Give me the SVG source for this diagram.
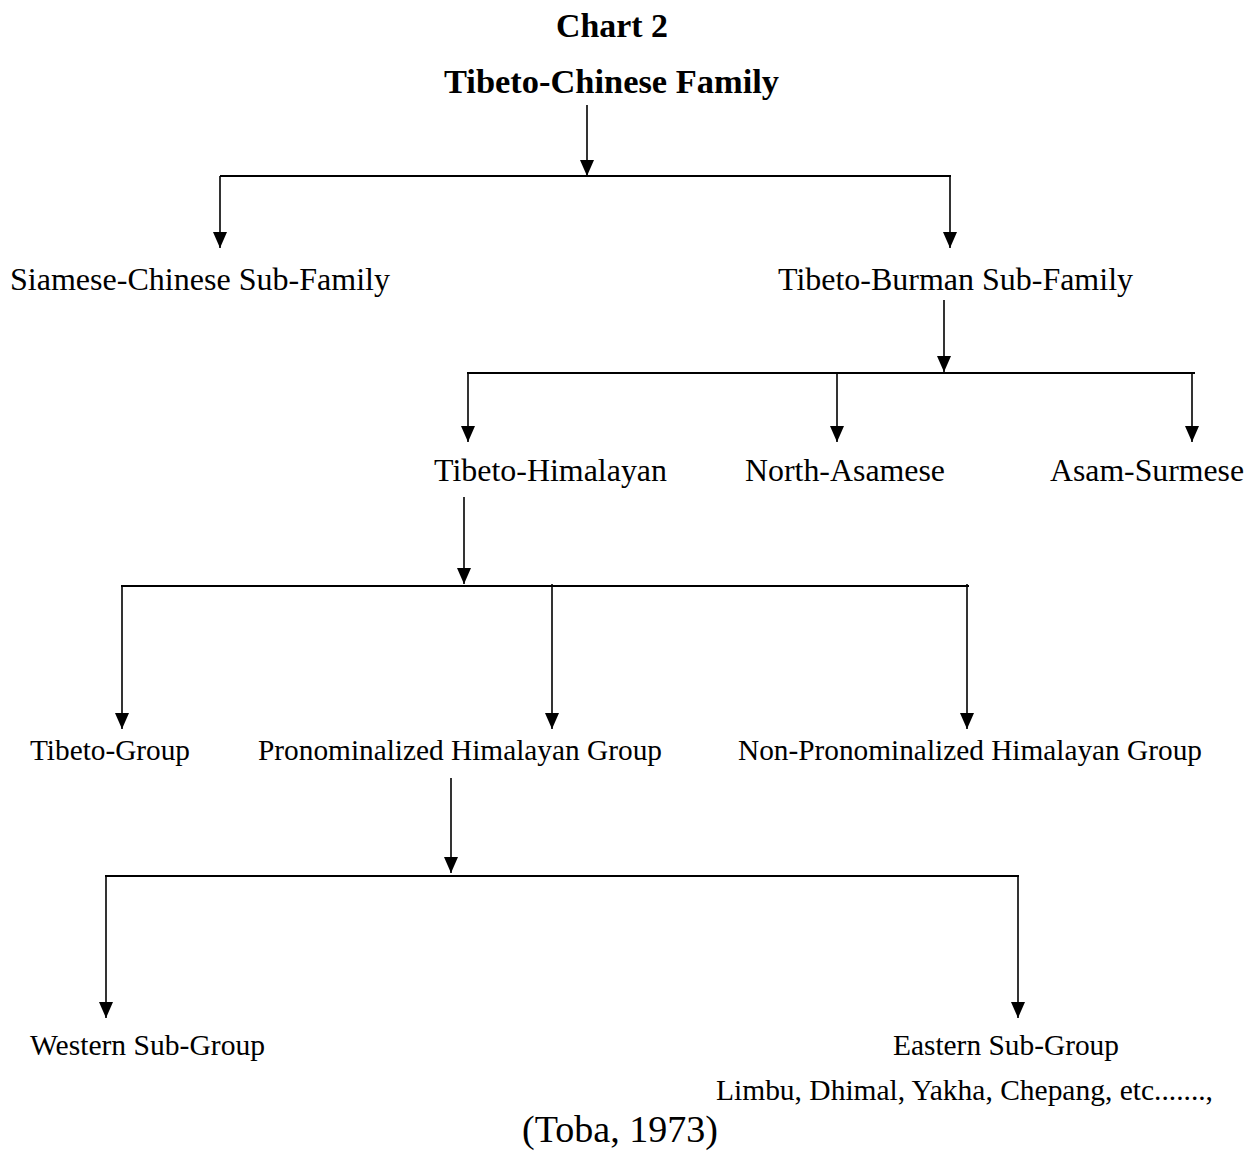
<svg xmlns="http://www.w3.org/2000/svg" width="1258" height="1169" viewBox="0 0 1258 1169">
<defs>
<marker id="arr" markerUnits="userSpaceOnUse" markerWidth="16" markerHeight="14" viewBox="0 0 16 14" refX="16" refY="7" orient="auto">
<path d="M0,0 L16,7 L0,14 z" fill="#000"/>
</marker>
<style>
text { font-family: 'Liberation Serif', 'Times New Roman', Times, serif; fill: #000; }
.b { font-weight: bold; font-size: 34px; }
.l1 { font-size: 32px; }
.l2 { font-size: 29.5px; }
.v { stroke: #000; stroke-width: 1.6; fill: none; marker-end: url(#arr); }
.h { stroke: #000; stroke-width: 2; fill: none; }
</style>
</defs>
<rect width="1258" height="1169" fill="#fff"/>
<g id="title">
<text class="b" x="556" y="37" textLength="112" lengthAdjust="spacingAndGlyphs">Chart 2</text>
</g>
<g id="n-root"><text class="b" x="444" y="93" textLength="335" lengthAdjust="spacingAndGlyphs">Tibeto-Chinese Family</text></g>
<g id="n-siamese"><text class="l1" x="10" y="290" textLength="380" lengthAdjust="spacingAndGlyphs">Siamese-Chinese Sub-Family</text></g>
<g id="n-tibetoburman"><text class="l1" x="778" y="290" textLength="355" lengthAdjust="spacingAndGlyphs">Tibeto-Burman Sub-Family</text></g>
<g id="n-tibetohimalayan"><text class="l1" x="434" y="481" textLength="233" lengthAdjust="spacingAndGlyphs">Tibeto-Himalayan</text></g>
<g id="n-northasamese"><text class="l1" x="745" y="481" textLength="200" lengthAdjust="spacingAndGlyphs">North-Asamese</text></g>
<g id="n-asamsurmese"><text class="l1" x="1050" y="481" textLength="194" lengthAdjust="spacingAndGlyphs">Asam-Surmese</text></g>
<g id="n-tibetogroup"><text class="l2" x="30" y="760" textLength="160" lengthAdjust="spacingAndGlyphs">Tibeto-Group</text></g>
<g id="n-pronom"><text class="l2" x="258" y="760" textLength="404" lengthAdjust="spacingAndGlyphs">Pronominalized Himalayan Group</text></g>
<g id="n-nonpronom"><text class="l2" x="738" y="760" textLength="464" lengthAdjust="spacingAndGlyphs">Non-Pronominalized Himalayan Group</text></g>
<g id="n-western"><text class="l2" x="30" y="1055" textLength="235" lengthAdjust="spacingAndGlyphs">Western Sub-Group</text></g>
<g id="n-eastern">
<text class="l2" x="893" y="1055" textLength="226" lengthAdjust="spacingAndGlyphs">Eastern Sub-Group</text>
<text class="l2" x="716" y="1100" textLength="497" lengthAdjust="spacingAndGlyphs">Limbu, Dhimal, Yakha, Chepang, etc.......,</text>
</g>
<g id="source"><text x="522" y="1142" font-size="38" textLength="196" lengthAdjust="spacingAndGlyphs">(Toba, 1973)</text></g>
<g id="connectors">
<line class="v" x1="587" y1="105" x2="587" y2="176"/>
<line class="h" x1="220" y1="176" x2="951" y2="176"/>
<line class="v" x1="220" y1="176" x2="220" y2="248"/>
<line class="v" x1="950" y1="176" x2="950" y2="248"/>
<line class="v" x1="944" y1="300" x2="944" y2="372"/>
<line class="h" x1="467" y1="373" x2="1195" y2="373"/>
<line class="v" x1="468" y1="373" x2="468" y2="442"/>
<line class="v" x1="837" y1="372" x2="837" y2="442"/>
<line class="v" x1="1192" y1="373" x2="1192" y2="442"/>
<line class="v" x1="464" y1="497" x2="464" y2="584"/>
<line class="h" x1="121" y1="586" x2="969" y2="586"/>
<line class="v" x1="122" y1="586" x2="122" y2="729"/>
<line class="v" x1="552" y1="584" x2="552" y2="729"/>
<line class="v" x1="967" y1="584" x2="967" y2="729"/>
<line class="v" x1="451" y1="778" x2="451" y2="873"/>
<line class="h" x1="105" y1="876" x2="1019" y2="876"/>
<line class="v" x1="106" y1="876" x2="106" y2="1018"/>
<line class="v" x1="1018" y1="876" x2="1018" y2="1018"/>
</g>
</svg>
